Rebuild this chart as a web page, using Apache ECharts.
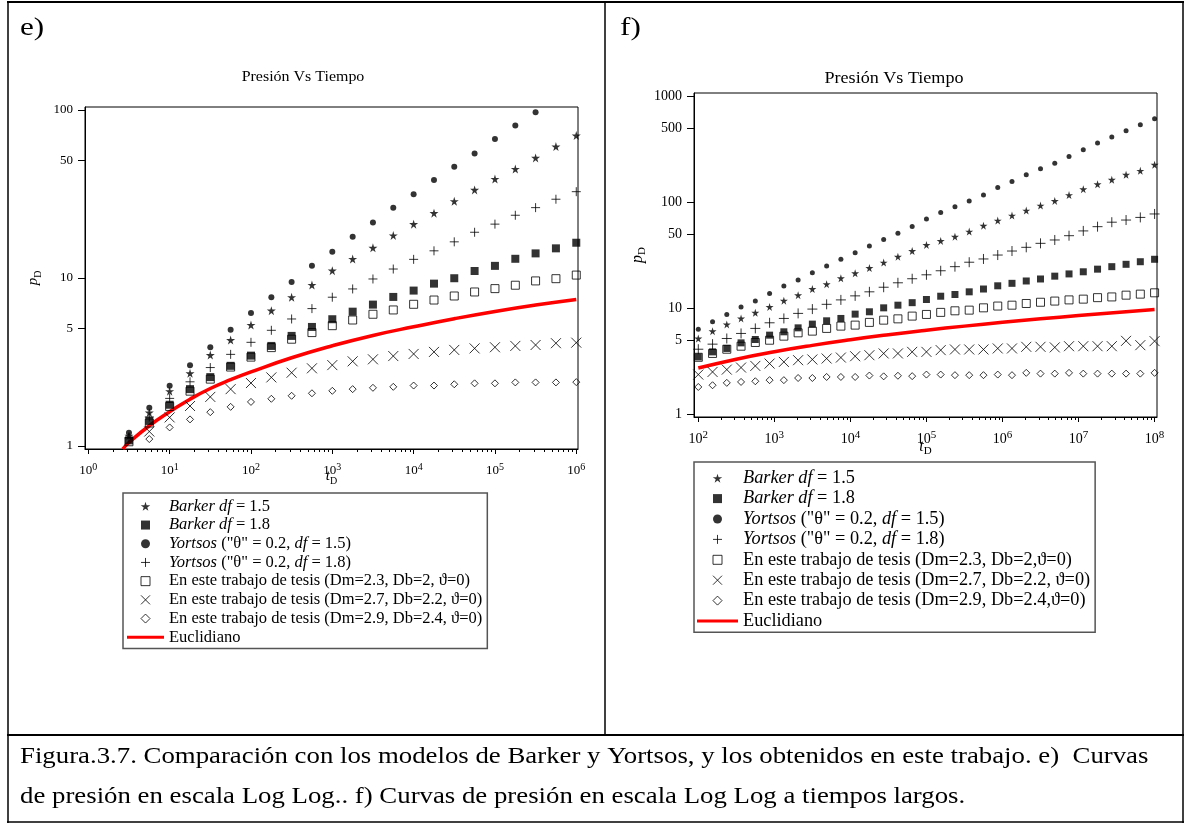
<!DOCTYPE html>
<html><head><meta charset="utf-8">
<script src="https://cdn.jsdelivr.net/npm/echarts@6/dist/echarts.min.js"></script>
<style>html,body{margin:0;padding:0;background:#fff}#c{width:1186px;height:827px}</style>
</head><body><div id="c"></div>
<script>
// ===== Panel e) data =====
const tE = [3.16, 5.62, 10, 17.8, 31.6, 56.2, 100, 178, 316, 562, 1000, 1780, 3160, 5620, 1.0e4, 1.78e4, 3.16e4, 5.62e4, 1.0e5, 1.78e5, 3.16e5, 5.62e5, 1.0e6];
const tE3 = [5.62, 10, 17.8, 31.6, 56.2, 100, 178, 316, 562, 1000, 1780, 3160, 5620, 1.0e4, 1.78e4, 3.16e4, 5.62e4, 1.0e5, 1.78e5, 3.16e5, 5.62e5, 1.0e6];
const barker15E = [1.15, 1.58, 2.12, 2.71, 3.48, 4.27, 5.25, 6.39, 7.68, 9.08, 11.05, 12.97, 15.1, 17.9, 20.9, 24.3, 28.6, 33.4, 38.8, 44.5, 51.8, 60.5, 70.3];
const barker18E = [1.08, 1.41, 1.76, 2.18, 2.57, 3.0, 3.45, 3.94, 4.52, 5.11, 5.68, 6.3, 6.94, 7.71, 8.41, 9.25, 9.96, 11.0, 11.8, 13.0, 14.0, 15.0, 16.2];
const yortsos15E = [1.2, 1.69, 2.28, 3.02, 3.87, 4.92, 6.19, 7.68, 9.47, 11.8, 14.3, 17.6, 21.4, 26.2, 31.5, 38.3, 45.8, 55.0, 67.2, 80.7, 96.9];
const yortsos18E = [1.12, 1.49, 1.92, 2.41, 2.93, 3.51, 4.14, 4.88, 5.7, 6.57, 7.68, 8.6, 9.86, 11.3, 12.9, 14.5, 16.4, 18.7, 20.9, 23.6, 26.2, 29.4, 32.6];
const tesis1E = [1.06, 1.37, 1.72, 2.12, 2.5, 2.95, 3.38, 3.85, 4.32, 4.73, 5.2, 5.62, 6.08, 6.45, 6.97, 7.39, 7.81, 8.25, 8.64, 9.05, 9.6, 9.9, 10.4];
const tesis2E = [1.22, 1.48, 1.73, 1.96, 2.18, 2.37, 2.56, 2.73, 2.9, 3.03, 3.19, 3.28, 3.43, 3.53, 3.63, 3.73, 3.81, 3.87, 3.94, 3.99, 4.09, 4.12];
const tesis3E = [1.1, 1.29, 1.44, 1.59, 1.71, 1.83, 1.91, 1.99, 2.06, 2.13, 2.18, 2.22, 2.25, 2.29, 2.29, 2.33, 2.36, 2.36, 2.39, 2.39, 2.39, 2.4];
const tEucE = [2.65, 3.16, 5.62, 10, 17.8, 31.6, 56.2, 100, 316, 1000, 3160, 1.0e4, 3.16e4, 1.0e5, 3.16e5, 1.0e6];
const euclidE = [0.96, 1.05, 1.32, 1.6, 1.9, 2.2, 2.48, 2.76, 3.35, 3.95, 4.55, 5.12, 5.72, 6.32, 6.9, 7.45];

// ===== Panel f) data =====
const tF = [100, 154, 237, 365, 562, 866, 1334, 2054, 3162, 4870, 7499, 11548, 17783, 27384, 42170, 64938, 1.0e5, 1.54e5, 2.371e5, 3.652e5, 5.623e5, 8.66e5, 1.3335e6, 2.0535e6, 3.1623e6, 4.8697e6, 7.4989e6, 1.15478e7, 1.77828e7, 2.73842e7, 4.21697e7, 6.49382e7, 1.0e8];
const yortsos15F = [6.36, 7.45, 8.75, 10.3, 11.7, 13.8, 16.2, 18.5, 21.7, 25, 29, 33.5, 38.6, 44.5, 51, 59, 69.7, 80, 91, 103, 117, 138, 157, 182, 207, 234, 271, 313, 362, 412, 473, 539, 614];
const barker15F = [5.19, 6.09, 7.04, 8.02, 9.07, 10.3, 11.8, 13.3, 15.2, 16.9, 19.2, 21.4, 24, 27, 30.7, 34.7, 39.6, 43.2, 47.4, 52.9, 60.2, 67.2, 74.9, 83.5, 93.1, 103, 117, 133, 148, 163, 182, 198, 226];
const yortsos18F = [4.11, 4.59, 5.19, 5.79, 6.46, 7.3, 8.02, 8.95, 9.83, 10.9, 12.0, 13.1, 14.3, 15.8, 17.4, 19.0, 20.7, 22.6, 24.7, 27.2, 29.2, 31.8, 34.7, 37.6, 41, 44.1, 48.4, 53.7, 58.9, 64.9, 68, 72, 77.6];
const barker18F = [3.48, 3.88, 4.18, 4.72, 5.08, 5.58, 6.0, 6.54, 7.09, 7.62, 8.02, 8.81, 9.27, 10.1, 10.7, 11.3, 12.1, 13.0, 13.5, 14.3, 15.2, 16.3, 17.2, 18.1, 18.9, 20.1, 21.1, 22.1, 23.4, 24.7, 26, 27.5, 29];
const tesis1F = [3.45, 3.75, 4.11, 4.39, 4.76, 5.0, 5.46, 5.87, 6.09, 6.46, 6.79, 6.94, 7.36, 7.73, 7.95, 8.44, 8.75, 9.15, 9.47, 9.61, 10.1, 10.5, 10.7, 11.1, 11.4, 11.7, 12.0, 12.2, 12.6, 12.8, 13.3, 13.6, 14.0];
const tesis2F = [2.37, 2.51, 2.64, 2.76, 2.86, 3.01, 3.12, 3.24, 3.29, 3.36, 3.43, 3.53, 3.61, 3.75, 3.75, 3.88, 3.88, 4.03, 4.09, 4.09, 4.09, 4.18, 4.18, 4.33, 4.33, 4.28, 4.39, 4.39, 4.39, 4.39, 4.93, 4.49, 4.9];
const tesis3F = [1.81, 1.88, 1.98, 2.02, 2.05, 2.1, 2.1, 2.2, 2.2, 2.25, 2.25, 2.25, 2.32, 2.28, 2.31, 2.29, 2.37, 2.37, 2.34, 2.34, 2.34, 2.37, 2.34, 2.46, 2.42, 2.42, 2.46, 2.42, 2.42, 2.42, 2.42, 2.42, 2.46];
const tEucF = [100, 316, 1000, 3162, 1.0e4, 3.162e4, 1.0e5, 3.162e5, 1.0e6, 3.162e6, 1.0e7, 3.162e7, 1.0e8];
const euclidF = [2.73, 3.31, 3.89, 4.47, 5.05, 5.63, 6.21, 6.79, 7.37, 7.95, 8.55, 9.15, 9.75];

// ===== tick labels =====
const yTicksE = [1, 5, 10, 50, 100];
const yTicksF = [1, 5, 10, 50, 100, 500, 1000];
const xDecadesE = [0, 1, 2, 3, 4, 5, 6];
const xDecadesF = [2, 3, 4, 5, 6, 7, 8];

const titleText = 'Presión Vs Tiempo';
const legendE = [
  '{i|Barker} {i|df} = 1.5',
  '{i|Barker} {i|df} = 1.8',
  '{i|Yortsos} ("θ" = 0.2, {i|df} = 1.5)',
  '{i|Yortsos} ("θ" = 0.2, {i|df} = 1.8)',
  'En este trabajo de tesis (Dm=2.3, Db=2, ϑ=0)',
  'En este trabajo de tesis (Dm=2.7, Db=2.2, ϑ=0)',
  'En este trabajo de tesis (Dm=2.9, Db=2.4, ϑ=0)',
  'Euclidiano'
];
const legendF = [
  '{i|Barker} {i|df} = 1.5',
  '{i|Barker} {i|df} = 1.8',
  '{i|Yortsos} ("θ" = 0.2, {i|df} = 1.5)',
  '{i|Yortsos} ("θ" = 0.2, {i|df} = 1.8)',
  'En este trabajo de tesis (Dm=2.3, Db=2,ϑ=0)',
  'En este trabajo de tesis (Dm=2.7, Db=2.2, ϑ=0)',
  'En este trabajo de tesis (Dm=2.9, Db=2.4,ϑ=0)',
  'Euclidiano'
];
const caption1 = 'Figura.3.7. Comparación con los modelos de Barker y Yortsos, y los obtenidos en este trabajo. e)  Curvas';
const caption2 = 'de presión en escala Log Log.. f) Curvas de presión en escala Log Log a tiempos largos.';

// ===== rendering =====
const SERIF = '"Liberation Serif", "DejaVu Serif", serif';
const STAR = 'path://M50,0 L61,35 L98,35 L68,57 L79,91 L50,70 L21,91 L32,57 L2,35 L39,35 Z';
const SQUARE = 'path://M0,0 L10,0 L10,10 L0,10 Z';
const PLUS = 'path://M5,0 L5,10 M0,5 L10,5';
const CROSS = 'path://M0,0 L10,10 M10,0 L0,10';
const DIAMOND = 'path://M5,0 L10,5 L5,10 L0,5 Z';
const LINEICON = 'path://M0,0 L40,0 L40,3 L0,3 Z';

function pairs(t, v) { return v.map((y, i) => [t[i], y]); }
const fillStyle = {color: '#000', borderWidth: 0};
const strokeStyle = {color: 'rgba(0,0,0,0)', borderColor: '#000', borderWidth: 1};
const L10 = Math.log10;

function minorTicks(a, b) {
  const r = [];
  for (let k = a; k < b; k++) for (let m = 2; m <= 9; m++) r.push(k + L10(m));
  return r;
}

const ext = {
  e: {xmin: 0.91, xmax: 1.05e6, ymin: 0.96, ymax: 104},
  f: {xmin: 87.8, xmax: 1.076e8, ymin: 0.943, ymax: 1074}
};

function axesFor(gi, e, decades, yt, fs, gapX, gapY) {
  const xs = [
    {gridIndex: gi, type: 'log', min: e.xmin, max: e.xmax, show: false},
    {gridIndex: gi, type: 'value', position: 'bottom', min: L10(e.xmin), max: L10(e.xmax),
     axisLine: {show: true, onZero: false, lineStyle: {color: '#000', width: 1}},
     axisTick: {show: true, length: 5, customValues: decades, lineStyle: {color: '#000'}},
     axisLabel: {show: true, customValues: decades, margin: 13, color: '#000',
       formatter: v => '{b|10}{s|' + Math.round(v) + '}',
       rich: {b: {fontFamily: SERIF, fontSize: fs, color: '#000'},
              s: {fontFamily: SERIF, fontSize: fs - 3, color: '#000', padding: [0, 0, 8, 0]}}},
     splitLine: {show: false},
     name: '{t|t}{d|D}', nameLocation: 'middle', nameGap: gapX, nameMoveOverlap: false,
     nameTextStyle: {rich: {t: {fontFamily: SERIF, fontStyle: 'italic', fontSize: fs + 2, color: '#000'},
                            d: {fontFamily: SERIF, fontSize: fs - 3, color: '#000', padding: [9, 0, 0, 0]}}}},
    {gridIndex: gi, type: 'value', position: 'bottom', min: L10(e.xmin), max: L10(e.xmax),
     axisLine: {show: false},
     axisTick: {show: true, length: 3, customValues: minorTicks(decades[0], decades[decades.length - 1]), lineStyle: {color: '#000'}},
     axisLabel: {show: false}, splitLine: {show: false}}
  ];
  const ylog = yt.map(L10);
  const ys = [
    {gridIndex: gi, type: 'log', min: e.ymin, max: e.ymax, show: false},
    {gridIndex: gi, type: 'value', position: 'left', min: L10(e.ymin), max: L10(e.ymax),
     axisLine: {show: true, onZero: false, lineStyle: {color: '#000', width: 1}},
     axisTick: {show: true, length: 7, customValues: ylog, lineStyle: {color: '#000'}},
     axisLabel: {show: true, customValues: ylog, margin: 12, color: '#000', fontFamily: SERIF, fontSize: fs,
       formatter: v => String(Math.round(Math.pow(10, v)))},
     splitLine: {show: false},
     name: '{p|p}{d|D}', nameLocation: 'middle', nameRotate: 90, nameGap: gapY, nameMoveOverlap: false,
     nameTextStyle: {rich: {p: {fontFamily: SERIF, fontStyle: 'italic', fontSize: fs + 2, color: '#000'},
                            d: {fontFamily: SERIF, fontSize: fs - 3, color: '#000', padding: [9, 0, 0, 0]}}}}
  ];
  return {xs, ys};
}

const aE = axesFor(0, ext.e, xDecadesE, yTicksE, 13, 18, 42);
const aF = axesFor(1, ext.f, xDecadesF, yTicksF, 14, 20, 46);

function seriesFor(prefix, xi, yi, sets, sizes) {
  return sets.map((s, i) => s.line ? {
    type: 'line', name: prefix + i, xAxisIndex: xi, yAxisIndex: yi, data: s.data,
    symbol: 'none', smooth: true, clip: true, z: 2,
    lineStyle: {color: '#ff0000', width: 3.5}, itemStyle: {color: '#ff0000'}, silent: true
  } : {
    type: 'scatter', name: prefix + i, xAxisIndex: xi, yAxisIndex: yi, data: s.data,
    symbol: s.sym, symbolSize: sizes[i], itemStyle: s.st, z: 3, silent: true, clip: true
  });
}

const setsE = [
  {data: pairs(tE, barker15E), sym: STAR, st: fillStyle},
  {data: pairs(tE, barker18E), sym: SQUARE, st: fillStyle},
  {data: pairs(tE, yortsos15E), sym: 'circle', st: fillStyle},
  {data: pairs(tE, yortsos18E), sym: PLUS, st: strokeStyle},
  {data: pairs(tE, tesis1E), sym: SQUARE, st: strokeStyle},
  {data: pairs(tE3, tesis2E), sym: CROSS, st: strokeStyle},
  {data: pairs(tE3, tesis3E), sym: DIAMOND, st: strokeStyle},
  {data: pairs(tEucE, euclidE), line: true}
];
const setsF = [
  {data: pairs(tF, barker15F), sym: STAR, st: fillStyle},
  {data: pairs(tF, barker18F), sym: SQUARE, st: fillStyle},
  {data: pairs(tF, yortsos15F), sym: 'circle', st: fillStyle},
  {data: pairs(tF, yortsos18F), sym: PLUS, st: strokeStyle},
  {data: pairs(tF, tesis1F), sym: SQUARE, st: strokeStyle},
  {data: pairs(tF, tesis2F), sym: CROSS, st: strokeStyle},
  {data: pairs(tF, tesis3F), sym: DIAMOND, st: strokeStyle},
  {data: pairs(tEucF, euclidF), line: true}
];

function legendFor(prefix, sets, labels, pos, fs, lh, iw, pad) {
  const icons = [STAR, SQUARE, 'circle', PLUS, SQUARE, CROSS, DIAMOND, LINEICON];
  const sty = [fillStyle, fillStyle, fillStyle, strokeStyle, strokeStyle, strokeStyle, strokeStyle, {color: '#ff0000', borderWidth: 0}];
  return {
    type: 'plain', orient: 'vertical', left: pos[0], top: pos[1], padding: pad,
    itemGap: 0, itemWidth: iw, itemHeight: 9, selectedMode: false,
    borderColor: '#555', borderWidth: 1.5, backgroundColor: '#fff',
    textStyle: {fontFamily: SERIF, fontSize: fs, color: '#000', lineHeight: lh,
      rich: {i: {fontFamily: SERIF, fontStyle: 'italic', fontSize: fs, color: '#000', lineHeight: lh}}},
    formatter: n => labels[+n.slice(prefix.length)],
    data: labels.map((l, i) => ({name: prefix + i, icon: icons[i], itemStyle: sty[i]}))
  };
}

function txt(x, y, text, size, align, sx) {
  return {type: 'text', x: x, y: y, scaleX: sx || 1, style: {text: text, font: size + 'px ' + SERIF, fill: '#000',
    textAlign: align, textVerticalAlign: 'middle', align: align, verticalAlign: 'middle'}};
}

const chart = echarts.init(document.getElementById('c'), null, {renderer: 'canvas'});
chart.setOption({
  animation: false,
  backgroundColor: '#fff',
  textStyle: {fontFamily: SERIF},
  grid: [
    {left: 85, top: 107, width: 493, height: 342, show: true, borderColor: '#000', borderWidth: 1, outerBoundsMode: 'none', containLabel: false},
    {left: 694, top: 93, width: 463, height: 324, show: true, borderColor: '#000', borderWidth: 1, outerBoundsMode: 'none', containLabel: false}
  ],
  xAxis: aE.xs.concat(aF.xs),
  yAxis: aE.ys.concat(aF.ys),
  legend: [
    legendFor('e', setsE, legendE, [123, 493], 16.5, 18.7, 37, [4, 5, 2, 4]),
    legendFor('f', setsF, legendF, [694, 462], 18.3, 20.4, 41, [6, 5, 1, 3])
  ],
  series: seriesFor('e', 0, 0, setsE, [9, 8, 6, 9, 8, 10, 7, 0])
    .concat(seriesFor('f', 3, 2, setsF, [8, 7, 5, 10, 8, 10, 7, 0])),
  graphic: [
    {type: 'line', shape: {x1: 7, y1: 2, x2: 1184, y2: 2}, style: {stroke: '#000', lineWidth: 2}},
    {type: 'line', shape: {x1: 8, y1: 2, x2: 8, y2: 823}, style: {stroke: '#000', lineWidth: 1.5}},
    {type: 'line', shape: {x1: 1183, y1: 2, x2: 1183, y2: 823}, style: {stroke: '#000', lineWidth: 1.5}},
    {type: 'line', shape: {x1: 605, y1: 2, x2: 605, y2: 735}, style: {stroke: '#000', lineWidth: 1.5}},
    {type: 'line', shape: {x1: 7, y1: 735, x2: 1184, y2: 735}, style: {stroke: '#000', lineWidth: 2}},
    {type: 'line', shape: {x1: 7, y1: 822, x2: 1184, y2: 822}, style: {stroke: '#000', lineWidth: 1.5}},
    txt(20, 28, 'e)', 26, 'left', 1.2),
    txt(620, 28, 'f)', 26, 'left', 1.2),
    txt(303, 77, titleText, 14, 'center', 1.14),
    txt(894, 79, titleText, 16, 'center', 1.13),
    txt(20, 757, caption1, 23, 'left', 1.165),
    txt(20, 797, caption2, 23, 'left', 1.165)
  ]
});
</script></body></html>
